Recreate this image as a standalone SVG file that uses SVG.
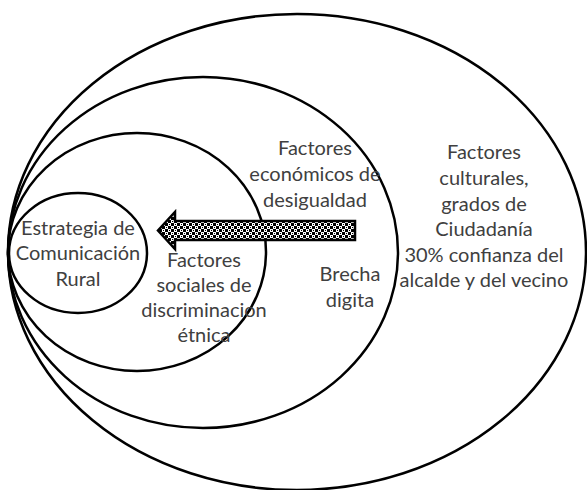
<svg xmlns="http://www.w3.org/2000/svg" width="587" height="490" viewBox="0 0 587 490">
<style>
.ring{fill:none;stroke:#000;stroke-width:2.5}
.lbl{font-family:Lato,"Liberation Sans",sans-serif;font-size:20px;fill:#404040;text-anchor:middle}
.arrow{fill:url(#conf);stroke:#000;stroke-width:2.5;stroke-linejoin:miter}
</style>
<defs>
<pattern id="conf" x="0" y="1" width="6" height="6" patternUnits="userSpaceOnUse">
<rect width="6" height="6" fill="#000"/>
<rect x="0" y="0" width="3" height="3" fill="#fff"/>
<rect x="3" y="3" width="3" height="3" fill="#fff"/>
<rect x="1" y="1" width="1" height="1" fill="#000"/>
<rect x="4" y="4" width="1" height="1" fill="#000"/>
</pattern>
</defs>
<rect width="587" height="490" fill="#fff"/>
<g id="outer">
<ellipse class="ring" cx="297" cy="252" rx="289" ry="238"/>
<text class="lbl" x="484" y="159">Factores</text>
<text class="lbl" x="484" y="185">culturales,</text>
<text class="lbl" x="484" y="211">grados de</text>
<text class="lbl" x="484" y="236">Ciudadanía</text>
<text class="lbl" x="484" y="262">30% confianza del</text>
<text class="lbl" x="484" y="287">alcalde y del vecino</text>
</g>
<g id="economic">
<ellipse class="ring" cx="203" cy="252.5" rx="195" ry="175.5"/>
<text class="lbl" x="315" y="155">Factores</text>
<text class="lbl" x="315" y="181">económicos de</text>
<text class="lbl" x="315" y="207">desigualdad</text>
<text class="lbl" x="350" y="281">Brecha</text>
<text class="lbl" x="350" y="307">digita</text>
</g>
<g id="social">
<ellipse class="ring" cx="137" cy="252" rx="129" ry="119"/>
<text class="lbl" x="204" y="267">Factores</text>
<text class="lbl" x="204" y="292">sociales de</text>
<text class="lbl" x="204" y="317">discriminacion</text>
<text class="lbl" x="204" y="342">étnica</text>
</g>
<g id="strategy">
<ellipse class="ring" cx="78" cy="253" rx="69" ry="60"/>
<text class="lbl" x="78" y="235">Estrategia de</text>
<text class="lbl" x="78" y="260">Comunicación</text>
<text class="lbl" x="78" y="286">Rural</text>
</g>
<g id="connectors">
<path class="arrow" d="M355,221 L175,221 L175,212 L158,230.5 L175,249 L175,240 L355,240 Z"/>
</g>
</svg>
